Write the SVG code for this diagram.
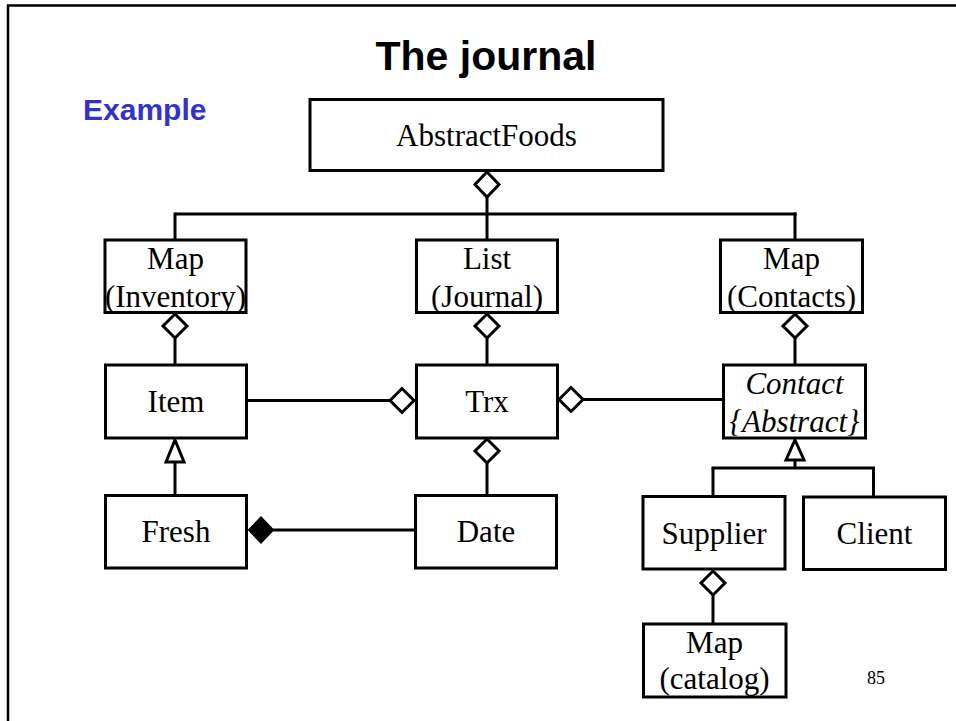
<svg xmlns="http://www.w3.org/2000/svg" width="956" height="721" viewBox="0 0 956 721">
  <style>
    .box { fill: #ffffff; stroke: #000000; stroke-width: 3; }
    .lbl { font-family: "Liberation Serif", "Times New Roman", serif; font-size: 31px; fill: #000000; text-anchor: middle; }
    .it { font-style: italic; }
    .ln { fill: none; stroke: #000000; stroke-width: 3; }
    .agg { fill: #ffffff; stroke: #000000; stroke-width: 3; stroke-linejoin: miter; }
    .comp { fill: #000000; stroke: #000000; stroke-width: 2; }
    .gen { fill: #ffffff; stroke: #000000; stroke-width: 3; stroke-linejoin: miter; }
  </style>

  <rect x="0" y="0" width="956" height="721" fill="#ffffff"/>
  <!-- slide frame -->
  <polyline points="8,730 8,5.5 965,5.5" fill="none" stroke="#000000" stroke-width="2.5"/>

  <text x="486" y="70" font-family="'Liberation Sans', Arial, sans-serif" font-size="41" font-weight="bold" text-anchor="middle" fill="#000000">The journal</text>
  <text x="83" y="119.5" font-family="'Liberation Sans', Arial, sans-serif" font-size="30" font-weight="bold" fill="#3333cc">Example</text>

  <!-- connectors -->
  <g id="connectors">
    <!-- AbstractFoods aggregates the three collections -->
    <line class="ln" x1="487" y1="197" x2="487" y2="240"/>
    <line class="ln" x1="175" y1="214" x2="796.5" y2="214"/>
    <line class="ln" x1="175" y1="212.5" x2="175" y2="240"/>
    <line class="ln" x1="795" y1="212.5" x2="795" y2="240"/>
    <polygon class="agg" points="487,172 499,184.5 487,197 475,184.5"/>

    <!-- Map(Inventory) to Item -->
    <line class="ln" x1="175" y1="338" x2="175" y2="365"/>
    <polygon class="agg" points="175,314 187,326 175,338 163,326"/>

    <!-- List(Journal) to Trx -->
    <line class="ln" x1="487" y1="338" x2="487" y2="365"/>
    <polygon class="agg" points="487,314 499,326 487,338 475,326"/>

    <!-- Map(Contacts) to Contact -->
    <line class="ln" x1="795" y1="338" x2="795" y2="365"/>
    <polygon class="agg" points="795,314 807,326 795,338 783,326"/>

    <!-- Item to Trx -->
    <line class="ln" x1="248" y1="400.5" x2="390" y2="400.5"/>
    <polygon class="agg" points="390,400.5 402,388.5 414,400.5 402,412.5"/>

    <!-- Contact to Trx -->
    <line class="ln" x1="583" y1="399.5" x2="722" y2="399.5"/>
    <polygon class="agg" points="559,399.5 571,387.5 583,399.5 571,411.5"/>

    <!-- Date to Trx -->
    <line class="ln" x1="487" y1="463" x2="487" y2="495"/>
    <polygon class="agg" points="487,439 499,451 487,463 475,451"/>

    <!-- Fresh specialises Item -->
    <line class="ln" x1="175" y1="462" x2="175" y2="494"/>
    <polygon class="gen" points="175,440 184,462 166,462"/>

    <!-- Fresh composes Date -->
    <line class="ln" x1="273" y1="530" x2="414" y2="530"/>
    <polygon class="comp" points="249,530 261,517.5 273,530 261,542.5"/>

    <!-- Supplier and Client specialise Contact -->
    <line class="ln" x1="795" y1="460" x2="795" y2="468"/>
    <line class="ln" x1="711.5" y1="468" x2="875" y2="468"/>
    <line class="ln" x1="713" y1="468" x2="713" y2="496"/>
    <line class="ln" x1="873.5" y1="468" x2="873.5" y2="496"/>
    <polygon class="gen" points="795,440 804,460 786,460"/>

    <!-- Supplier to Map(catalog) -->
    <line class="ln" x1="713" y1="595" x2="713" y2="624"/>
    <polygon class="agg" points="713,571 725,583 713,595 701,583"/>
  </g>

  <g id="abstractfoods">
    <rect class="box" x="310" y="99.5" width="353" height="71"/>
    <text class="lbl" x="486.5" y="146">AbstractFoods</text>
  </g>

  <g id="map-inventory">
    <rect class="box" x="105" y="240" width="141" height="72.5"/>
    <text class="lbl" x="175.5" y="269">Map</text>
    <text class="lbl" x="175.5" y="307">(Inventory)</text>
  </g>

  <g id="list-journal">
    <rect class="box" x="416.5" y="240" width="141" height="72.5"/>
    <text class="lbl" x="487" y="269">List</text>
    <text class="lbl" x="487" y="307">(Journal)</text>
  </g>

  <g id="map-contacts">
    <rect class="box" x="720.5" y="240" width="142" height="72.5"/>
    <text class="lbl" x="791.5" y="269">Map</text>
    <text class="lbl" x="791.5" y="307">(Contacts)</text>
  </g>

  <g id="item">
    <rect class="box" x="105.5" y="365" width="141" height="73"/>
    <text class="lbl" x="176" y="412">Item</text>
  </g>

  <g id="trx">
    <rect class="box" x="416.5" y="365" width="141" height="73"/>
    <text class="lbl" x="487" y="412">Trx</text>
  </g>

  <g id="contact">
    <rect class="box" x="723.5" y="365" width="142" height="73"/>
    <text class="lbl it" x="794.5" y="393.5">Contact</text>
    <text class="lbl it" x="794.5" y="432">{Abstract}</text>
  </g>

  <g id="fresh">
    <rect class="box" x="105.5" y="495.5" width="141" height="72.5"/>
    <text class="lbl" x="176" y="542">Fresh</text>
  </g>

  <g id="date">
    <rect class="box" x="415.5" y="495.5" width="141" height="72.5"/>
    <text class="lbl" x="486" y="542">Date</text>
  </g>

  <g id="supplier">
    <rect class="box" x="643" y="496.5" width="142" height="72.5"/>
    <text class="lbl" x="714" y="543.5">Supplier</text>
  </g>

  <g id="client">
    <rect class="box" x="803.5" y="497" width="142" height="72.5"/>
    <text class="lbl" x="874.5" y="544">Client</text>
  </g>

  <g id="map-catalog">
    <rect class="box" x="643.5" y="624" width="142.5" height="73"/>
    <text class="lbl" x="714.5" y="653">Map</text>
    <text class="lbl" x="714.5" y="688.5">(catalog)</text>
  </g>

  <text x="867" y="683.5" font-family="'Liberation Serif', 'Times New Roman', serif" font-size="18" fill="#000000">85</text>
</svg>
